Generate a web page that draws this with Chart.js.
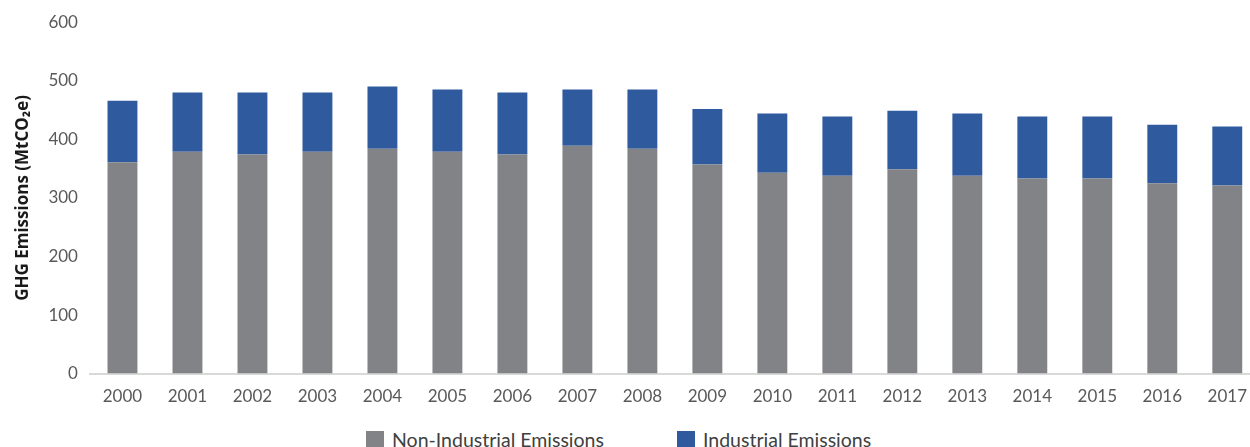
<!DOCTYPE html>
<html>
<head>
<meta charset="utf-8">
<script src="https://cdn.jsdelivr.net/npm/chart.js@4"></script>
<style>
  html, body { margin: 0; padding: 0; background: #fff; overflow: hidden; }
  #wrap { position: relative; width: 1260px; height: 420px; }
  #legend { position: absolute; top: 429px; left: 0; width: 1250px; font-family: Lato, sans-serif; font-size: 19.5px; color: #404040; }
  .item { position: absolute; top: 0; white-space: nowrap; line-height: 22px; }
  .swatch { display: inline-block; width: 18px; height: 18px; vertical-align: -2px; margin-right: 8px; }
</style>
</head>
<body>
<div id="wrap"><canvas id="ghg_chart"></canvas></div>
<div id="legend"></div>
<script>
const years = ['2000', '2001', '2002', '2003', '2004', '2005', '2006', '2007', '2008',
  '2009', '2010', '2011', '2012', '2013', '2014', '2015', '2016', '2017'];
const nonIndustrial = [361, 379, 374, 379, 384, 379, 374, 389, 384, 357, 343, 338, 349, 338, 333, 333, 325, 321];
const industrial = [105, 101, 106, 101, 106, 106, 106, 96, 101, 95, 101, 101, 100, 106, 106, 106, 100, 101];
const yTicks = [0, 100, 200, 300, 400, 500, 600];
const seriesNames = ['Non-Industrial Emissions', 'Industrial Emissions'];
const seriesColors = ['#828387', '#2F5A9E'];

const ctx = document.getElementById('ghg_chart').getContext('2d');

const chart = new Chart(ctx, {
  type: 'bar',
  data: {
    labels: years,
    datasets: [{
      label: seriesNames[0],
      data: nonIndustrial,
      backgroundColor: seriesColors[0],
      barPercentage: 0.46,
      categoryPercentage: 1
    }, {
      label: seriesNames[1],
      data: industrial,
      backgroundColor: seriesColors[1],
      barPercentage: 0.46,
      categoryPercentage: 1
    }]
  },
  options: {
    responsive: true,
    maintainAspectRatio: false,
    animation: false,
    layout: { padding: { left: 13, top: 12, right: 0, bottom: 0 } },
    plugins: {
      legend: { display: false },
      tooltip: { enabled: false }
    },
    scales: {
      x: {
        stacked: true,
        grid: { display: false, drawTicks: false },
        border: { color: '#d9d9d9', width: 2 },
        ticks: { color: '#595959', padding: 13, font: { family: 'Lato', size: 17 } }
      },
      y: {
        stacked: true,
        min: 0,
        max: 600,
        afterBuildTicks: axis => { axis.ticks = yTicks.map(v => ({ value: v })); },
        grid: { display: false, drawTicks: false },
        border: { display: false },
        ticks: { color: '#595959', padding: 12, font: { family: 'Lato', size: 17 } },
        title: {
          display: true,
          text: 'GHG Emissions (MtCO\u2082e)',
          color: '#1a1a1a',
          padding: { top: 0, bottom: 3 },
          font: { family: 'Open Sans', size: 17, weight: 'bold' }
        }
      }
    }
  }
});

// legend as html, placed like the original
const legendLeft = [366, 677];
const legend = document.getElementById('legend');
chart.data.datasets.forEach((ds, i) => {
  const item = document.createElement('div');
  item.className = 'item';
  item.style.left = legendLeft[i] + 'px';
  item.innerHTML = '<span class="swatch" style="background:' + ds.backgroundColor + '"></span>' + ds.label;
  legend.appendChild(item);
});
</script>
</body>
</html>
